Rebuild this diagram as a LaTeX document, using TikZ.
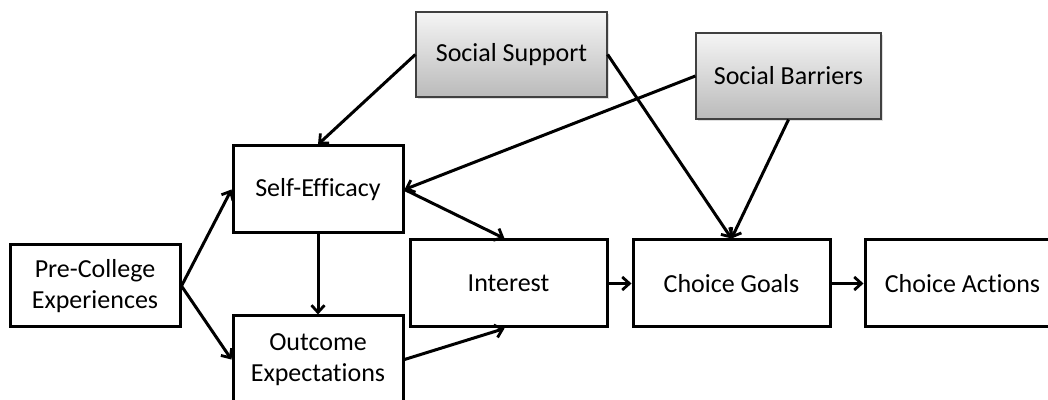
\documentclass[tikz,border=0pt]{standalone}
\usepackage{fontspec}
\setmainfont{Carlito}[Ligatures=NoCommon]
\usetikzlibrary{arrows.meta,shadows}
\begin{document}
\begin{tikzpicture}[x=0.5pt,y=-0.5pt,
  box/.style={draw=black, line width=1.5pt, fill=white, align=center, inner sep=0pt,
    font=\fontsize{13}{15.5}\selectfont},
  socbox/.style={draw=black!75, line width=0.6pt, top color=gray!8, bottom color=gray!54,
    align=center, inner sep=0pt, font=\fontsize{13}{15.5}\selectfont,
    drop shadow={opacity=0.25, shadow xshift=0.8pt, shadow yshift=-0.8pt}},
  conn/.style={line width=1.5pt, -{Straight Barb[length=3.6pt,width=6.5pt,line width=1.4pt]}}]
\useasboundingbox (0,0) rectangle (1048,400);
\begin{scope}
\clip (0,0) rectangle (1048,400);
\node[box, minimum width=85pt, minimum height=41pt] (pc) at (95,286) {Pre-College\\Experiences};
\node[box, minimum width=85pt, minimum height=43.5pt] (se) at (318,189.5) {Self-Efficacy};
\node[box, minimum width=85pt, minimum height=43.5pt] (oe) at (318,359.5) {Outcome\\Expectations};
\node[box, minimum width=98.5pt, minimum height=43.5pt] (int) at (508.5,283.5) {Interest};
\node[box, minimum width=98.5pt, minimum height=43.5pt] (cg) at (731.5,283.5) {Choice Goals};
\node[box, minimum width=97.5pt, minimum height=43.5pt] (ca) at (962.5,283.5) {Choice Actions};
\node[socbox, minimum width=95.5pt, minimum height=42.5pt] (ss) at (511.5,54.5) {Social Support};
\node[socbox, minimum width=92.5pt, minimum height=43pt] (sb) at (788.5,76) {Social Barriers};

\draw[conn] (pc.east) -- (se.west);
\draw[conn] (pc.east) -- (oe.west);
\draw[conn] (se.south) -- (oe.north);
\draw[conn] (se.east) -- ([xshift=-2pt]int.north);
\draw[conn] (oe.east) -- ([xshift=-2pt]int.south);
\draw[conn] (ss.west) -- (se.north);
\draw[conn] (sb.west) -- (se.east);
\draw[conn] (ss.east) -- (cg.north);
\draw[conn] (sb.south) -- (cg.north);
\draw[conn] (int.east) -- (cg.west);
\draw[conn] (cg.east) -- (ca.west);
\end{scope}
\end{tikzpicture}
\end{document}
